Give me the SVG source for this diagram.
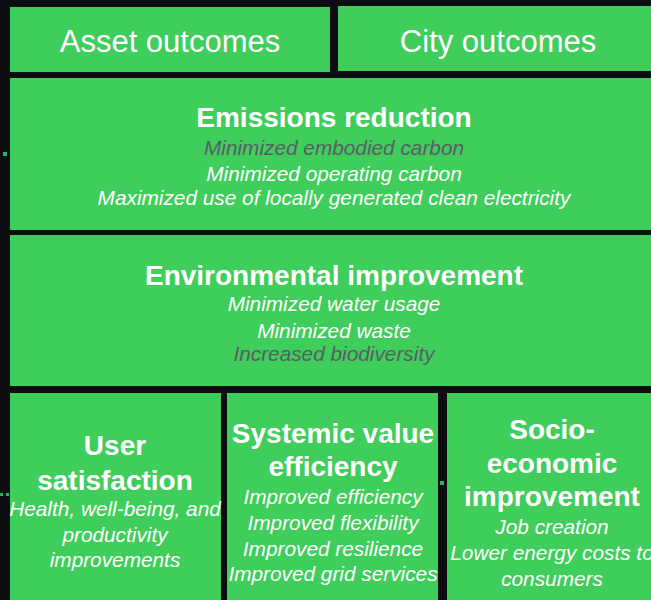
<svg xmlns="http://www.w3.org/2000/svg" width="651" height="600" viewBox="0 0 651 600">
<style>
.box{fill:#3fcd5b}
.t{font-family:"Liberation Sans",Arial,sans-serif;fill:#ffffff;text-anchor:middle}
.h{font-size:31px}
.b{font-size:28px;font-weight:bold}
.i{font-size:20.8px;font-style:italic}
.g{fill:#5a5c66}
.dot{fill:#2bb35a}
</style>
<rect x="0" y="0" width="651" height="600" fill="#0b0d11"/>
<g id="bg-dots">
<rect class="dot" x="3" y="152" width="4" height="4"/>
<rect class="dot" x="0" y="493" width="3" height="3"/>
<rect class="dot" x="6" y="493" width="3" height="3"/>
<rect class="dot" x="440" y="481" width="4" height="4"/>
</g>
<g id="connectors"></g>
<g id="asset-outcomes">
<rect class="box" x="10" y="7" width="320" height="65"/>
<text class="t h" x="170" y="52">Asset outcomes</text>
</g>
<g id="city-outcomes">
<rect class="box" x="338" y="6" width="320" height="65"/>
<text class="t h" x="498" y="52">City outcomes</text>
</g>
<g id="emissions-reduction">
<rect class="box" x="10" y="78" width="648" height="152"/>
<text class="t b" x="334" y="127">Emissions reduction</text>
<text class="t i g" x="334" y="155">Minimized embodied carbon</text>
<text class="t i" x="334" y="181">Minimized operating carbon</text>
<text class="t i" x="334" y="205">Maximized use of locally generated clean electricity</text>
</g>
<g id="environmental-improvement">
<rect class="box" x="10" y="235" width="648" height="151"/>
<text class="t b" x="334" y="285">Environmental improvement</text>
<text class="t i" x="334" y="311">Minimized water usage</text>
<text class="t i" x="334" y="338">Minimized waste</text>
<text class="t i g" x="334" y="361">Increased biodiversity</text>
</g>
<g id="user-satisfaction">
<rect class="box" x="10" y="393" width="211" height="210"/>
<text class="t b" x="115" y="455">User</text>
<text class="t b" x="115" y="490">satisfaction</text>
<text class="t i" x="115" y="516">Health, well-being, and</text>
<text class="t i" x="115" y="542">productivity</text>
<text class="t i" x="115" y="567">improvements</text>
</g>
<g id="systemic-value-efficiency">
<rect class="box" x="227" y="393" width="211" height="210"/>
<text class="t b" x="333" y="443">Systemic value</text>
<text class="t b" x="333" y="476">efficiency</text>
<text class="t i" x="333" y="504">Improved efficiency</text>
<text class="t i" x="333" y="530">Improved flexibility</text>
<text class="t i" x="333" y="556">Improved resilience</text>
<text class="t i" x="333" y="581">Improved grid services</text>
</g>
<g id="socio-economic-improvement">
<rect class="box" x="447" y="393" width="211" height="210"/>
<text class="t b" x="552" y="439">Socio-</text>
<text class="t b" x="552" y="473">economic</text>
<text class="t b" x="552" y="506">improvement</text>
<text class="t i" x="552" y="534">Job creation</text>
<text class="t i" x="552" y="560">Lower energy costs to</text>
<text class="t i" x="552" y="586">consumers</text>
</g>
</svg>
